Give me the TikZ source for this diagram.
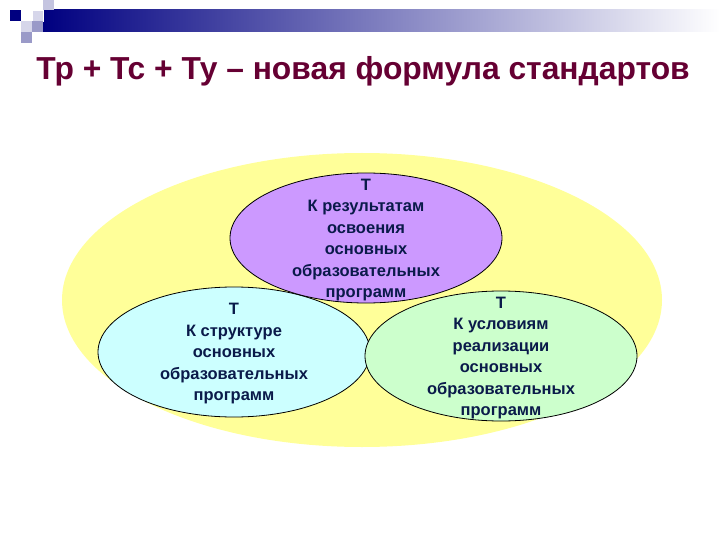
\documentclass[tikz,border=0pt]{standalone}
\usepackage{fontspec}
\setmainfont{Liberation Sans}
\usetikzlibrary{shapes.geometric}
\definecolor{navyb}{HTML}{000080}
\definecolor{titlec}{HTML}{660033}
\definecolor{txtc}{HTML}{0A1A4A}
\definecolor{yel}{HTML}{FFFF99}
\definecolor{purp}{HTML}{CC99FF}
\definecolor{cyanf}{HTML}{CCFFFF}
\definecolor{greenf}{HTML}{CCFFCC}
\definecolor{sqlight}{HTML}{D6D6EA}
\definecolor{sqmid}{HTML}{9A9AC8}
\definecolor{sqpale}{HTML}{C4C4E0}
\tikzset{
  oval/.style={ellipse, draw=black, line width=0.8pt, minimum width=272pt, minimum height=130pt, inner sep=0pt},
  ovaltext/.style={text=txtc, font=\bfseries\fontsize{16.5}{21.5}\selectfont, align=center},
}
\begin{document}
\begin{tikzpicture}[x=1pt,y=-1pt]
\useasboundingbox (0,0) rectangle (720,540);
\fill[white] (0,0) rectangle (720,540);
% decoration
\shade[left color=navyb, right color=white] (43,10) rectangle (720,32);
\fill[navyb] (10,10) rectangle (21,21);
\fill[sqlight] (32,10) rectangle (43,21);
\draw[white, line width=0.5pt] (32,10) rectangle (43,21);
\fill[sqpale] (43,0) rectangle (54,10);
\fill[sqlight] (21,21) rectangle (32,32);
\fill[sqmid] (32,21) rectangle (43,32);
\fill[sqmid] (21,32) rectangle (32,43);
% title
\node[anchor=base, text=titlec, font=\bfseries\fontsize{31.8}{38}\selectfont] (title) at (363,80) {Тр + Тс + Ту – новая формула стандартов};
% big ellipse
\node[ellipse, fill=yel, minimum width=600pt, minimum height=294pt, inner sep=0pt] (big) at (362,300) {};
% ellipses
\node[oval, fill=cyanf] (c) at (234,352) {};
\node[oval, fill=greenf] (g) at (501,356) {};
\node[oval, fill=purp] (p) at (366,238) {};
\node[ovaltext] (pt) at (366,240) {Т\\К результатам\\освоения\\основных\\образовательных\\программ};
\node[ovaltext] (ct) at (234,354) {Т\\К структуре\\основных\\образовательных\\программ};
\node[ovaltext] (gt) at (501,358) {Т\\К условиям\\реализации\\основных\\образовательных\\программ};
\end{tikzpicture}
\end{document}
